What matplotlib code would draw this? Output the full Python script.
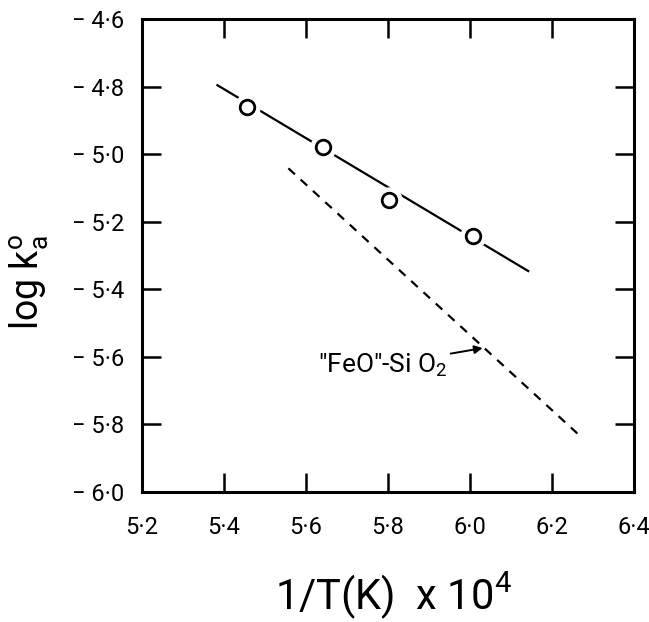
import matplotlib
matplotlib.use('Agg')
import matplotlib.pyplot as plt
from matplotlib.ticker import FixedLocator, FuncFormatter

# measured points (open circles)
inv_T = [5.455, 5.642, 5.803, 6.007]
log_k = [-4.860, -4.978, -5.136, -5.243]

# fitted line through the points
fit_x = [5.384, 6.142]
fit_y = [-4.796, -5.346]

# "FeO"-SiO2 reference line (dashed)
feo_x = [5.557, 6.272]
feo_y = [-5.042, -5.838]

x_ticks = [5.2, 5.4, 5.6, 5.8, 6.0, 6.2, 6.4]
y_ticks = [-4.6, -4.8, -5.0, -5.2, -5.4, -5.6, -5.8, -6.0]

plt.rcParams['font.family'] = ['Roboto', 'DejaVu Sans']
plt.rcParams['mathtext.fontset'] = 'custom'
plt.rcParams['mathtext.rm'] = 'Roboto'
plt.rcParams['mathtext.default'] = 'regular'

fig = plt.figure(figsize=(6.49, 6.22), dpi=100)
ax = fig.add_axes([142 / 649, 1 - 492 / 622, (634 - 142) / 649, (492 - 19) / 622])

ax.plot(fit_x, fit_y, color='black', lw=1.6, zorder=2)
ax.plot(inv_T, log_k, ls='none', marker='o', ms=18, mfc='white', mec='white', zorder=3)
ax.plot(inv_T, log_k, ls='none', marker='o', ms=10.5, mfc='white', mec='black', mew=2, zorder=4)
ax.plot(feo_x, feo_y, color='black', lw=1.6, ls=(0, (4, 3.5)), zorder=2)

ax.annotate('\u2033FeO\u2033-Si O$_2$', xy=(6.031, -5.574), xytext=(5.63, -5.625),
            fontsize=19, va='center', ha='left',
            arrowprops=dict(arrowstyle='-|>', color='black', lw=1.4, shrinkA=0, shrinkB=0,
                            mutation_scale=12))

ax.set_xlim(5.2, 6.4)
ax.set_ylim(-6.0, -4.6)
ax.xaxis.set_major_locator(FixedLocator(x_ticks))
ax.yaxis.set_major_locator(FixedLocator(y_ticks))
dot = FuncFormatter(lambda v, p: ('\u2212 ' if v < 0 else '') + f'{abs(v):.1f}'.replace('.', '\u00b7'))
ax.xaxis.set_major_formatter(dot)
ax.yaxis.set_major_formatter(dot)
ax.tick_params(direction='in', length=14, width=1.8, top=True, right=True, labelsize=17)
ax.tick_params(axis='x', pad=17)
ax.tick_params(axis='y', pad=13)
for s in ax.spines.values():
    s.set_linewidth(2.2)

ax.set_xlabel('1/T(K)  x 10$^4$', fontsize=30)
ax.xaxis.set_label_coords(0.51, -0.165)
ax.set_ylabel('log k$^o_a$', fontsize=27)
ax.yaxis.set_label_coords(-0.185, 0.445)

fig.savefig('out.png', dpi=100)
